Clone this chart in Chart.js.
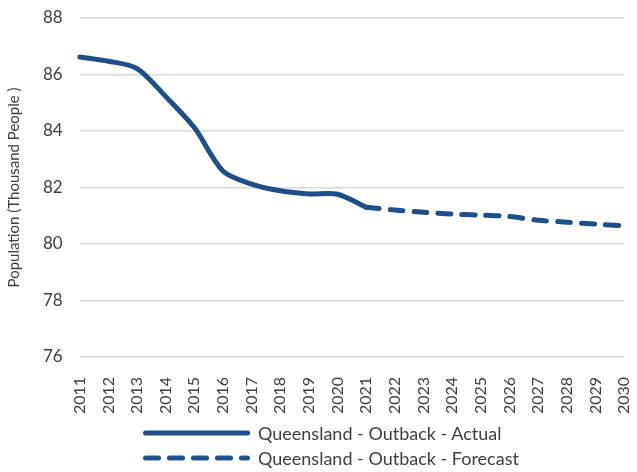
<!DOCTYPE html>
<html>
<head>
<meta charset="utf-8">
<script src="https://cdn.jsdelivr.net/npm/chart.js@4"></script>
<style>
  html, body { margin: 0; padding: 0; background: #fff; }
  #wrap { position: relative; width: 637px; height: 472px; }
  #plot { width: 637px; height: 432px; }
  #legend { position: absolute; left: 143px; top: 420px;
            font-family: Lato, "Liberation Sans", sans-serif; font-size: 18px; color: #404040; }
  .row { height: 25px; display: flex; align-items: center; white-space: nowrap; }
  .row svg { margin-right: 8px; }
</style>
</head>
<body>
<div id="wrap">
  <div id="plot"><canvas id="popChart"></canvas></div>
  <div id="legend"></div>
</div>
<script>
const years = ['2011', '2012', '2013', '2014', '2015', '2016', '2017', '2018', '2019', '2020',
               '2021', '2022', '2023', '2024', '2025', '2026', '2027', '2028', '2029', '2030'];
const actual = [86.62, 86.47, 86.21, 85.22, 84.12, 82.58, 82.12, 81.88, 81.77, 81.76,
                81.30, null, null, null, null, null, null, null, null, null];
const forecast = [null, null, null, null, null, null, null, null, null, null,
                  81.30, 81.20, 81.12, 81.06, 81.02, 80.97, 80.84, 80.77, 80.70, 80.64];
const yTicks = [76, 78, 80, 82, 84, 86, 88];

const navy = '#1f4e8c';
const textColor = '#404040';
const fontFamily = 'Lato, "Liberation Sans", sans-serif';

const ctx = document.getElementById('popChart').getContext('2d');

const chart = new Chart(ctx, {
    type: 'line',
    data: {
        labels: years,
        datasets: [{
            label: 'Queensland - Outback - Actual',
            data: actual,
            borderColor: navy,
            backgroundColor: navy,
            borderWidth: 5,
            borderCapStyle: 'round',
            pointRadius: 0,
            tension: 0.3
        }, {
            label: 'Queensland - Outback - Forecast',
            data: forecast,
            borderColor: navy,
            backgroundColor: navy,
            borderWidth: 5,
            borderDash: [13, 11],
            borderCapStyle: 'round',
            pointRadius: 0,
            tension: 0.3
        }]
    },
    options: {
        responsive: true,
        maintainAspectRatio: false,
        animation: false,
        layout: { padding: { top: 18, right: 0, left: 5, bottom: 6 } },
        plugins: {
            tooltip: { enabled: false },
            legend: { display: false }
        },
        scales: {
            x: {
                offset: false,
                grid: { display: false },
                border: { display: false },
                ticks: {
                    color: textColor,
                    font: { family: fontFamily, size: 16 },
                    maxRotation: 90,
                    minRotation: 90,
                    autoSkip: false,
                    padding: 12
                },
                afterFit(scale) {
                    scale.paddingLeft = 0;
                    scale.paddingRight = 13;
                }
            },
            y: {
                min: 76,
                max: 88,
                afterBuildTicks(axis) {
                    axis.ticks = yTicks.map(v => ({ value: v }));
                },
                afterFit(scale) {
                    scale.paddingTop = 0;
                },
                grid: { color: '#d9d9d9', lineWidth: 1.5, drawTicks: false },
                border: { display: false },
                ticks: {
                    color: textColor,
                    font: { family: fontFamily, size: 17 },
                    padding: 17
                },
                title: {
                    display: true,
                    text: 'Population (Thousand People )',
                    color: textColor,
                    font: { family: fontFamily, size: 15 },
                    padding: { top: 0, bottom: 3 }
                }
            }
        }
    }
});

// legend drawn below the canvas, both rows starting at the same x
const legendEl = document.getElementById('legend');
chart.data.datasets.forEach(ds => {
    const dash = ds.borderDash ? ` stroke-dasharray="${ds.borderDash.join(' ')}"` : '';
    const row = document.createElement('div');
    row.className = 'row';
    row.innerHTML = `<svg width="107" height="8"><line x1="2.5" y1="4" x2="104.5" y2="4" stroke="${ds.borderColor}" stroke-width="${ds.borderWidth}" stroke-linecap="round"${dash}/></svg><span>${ds.label}</span>`;
    legendEl.appendChild(row);
});
</script>
</body>
</html>
